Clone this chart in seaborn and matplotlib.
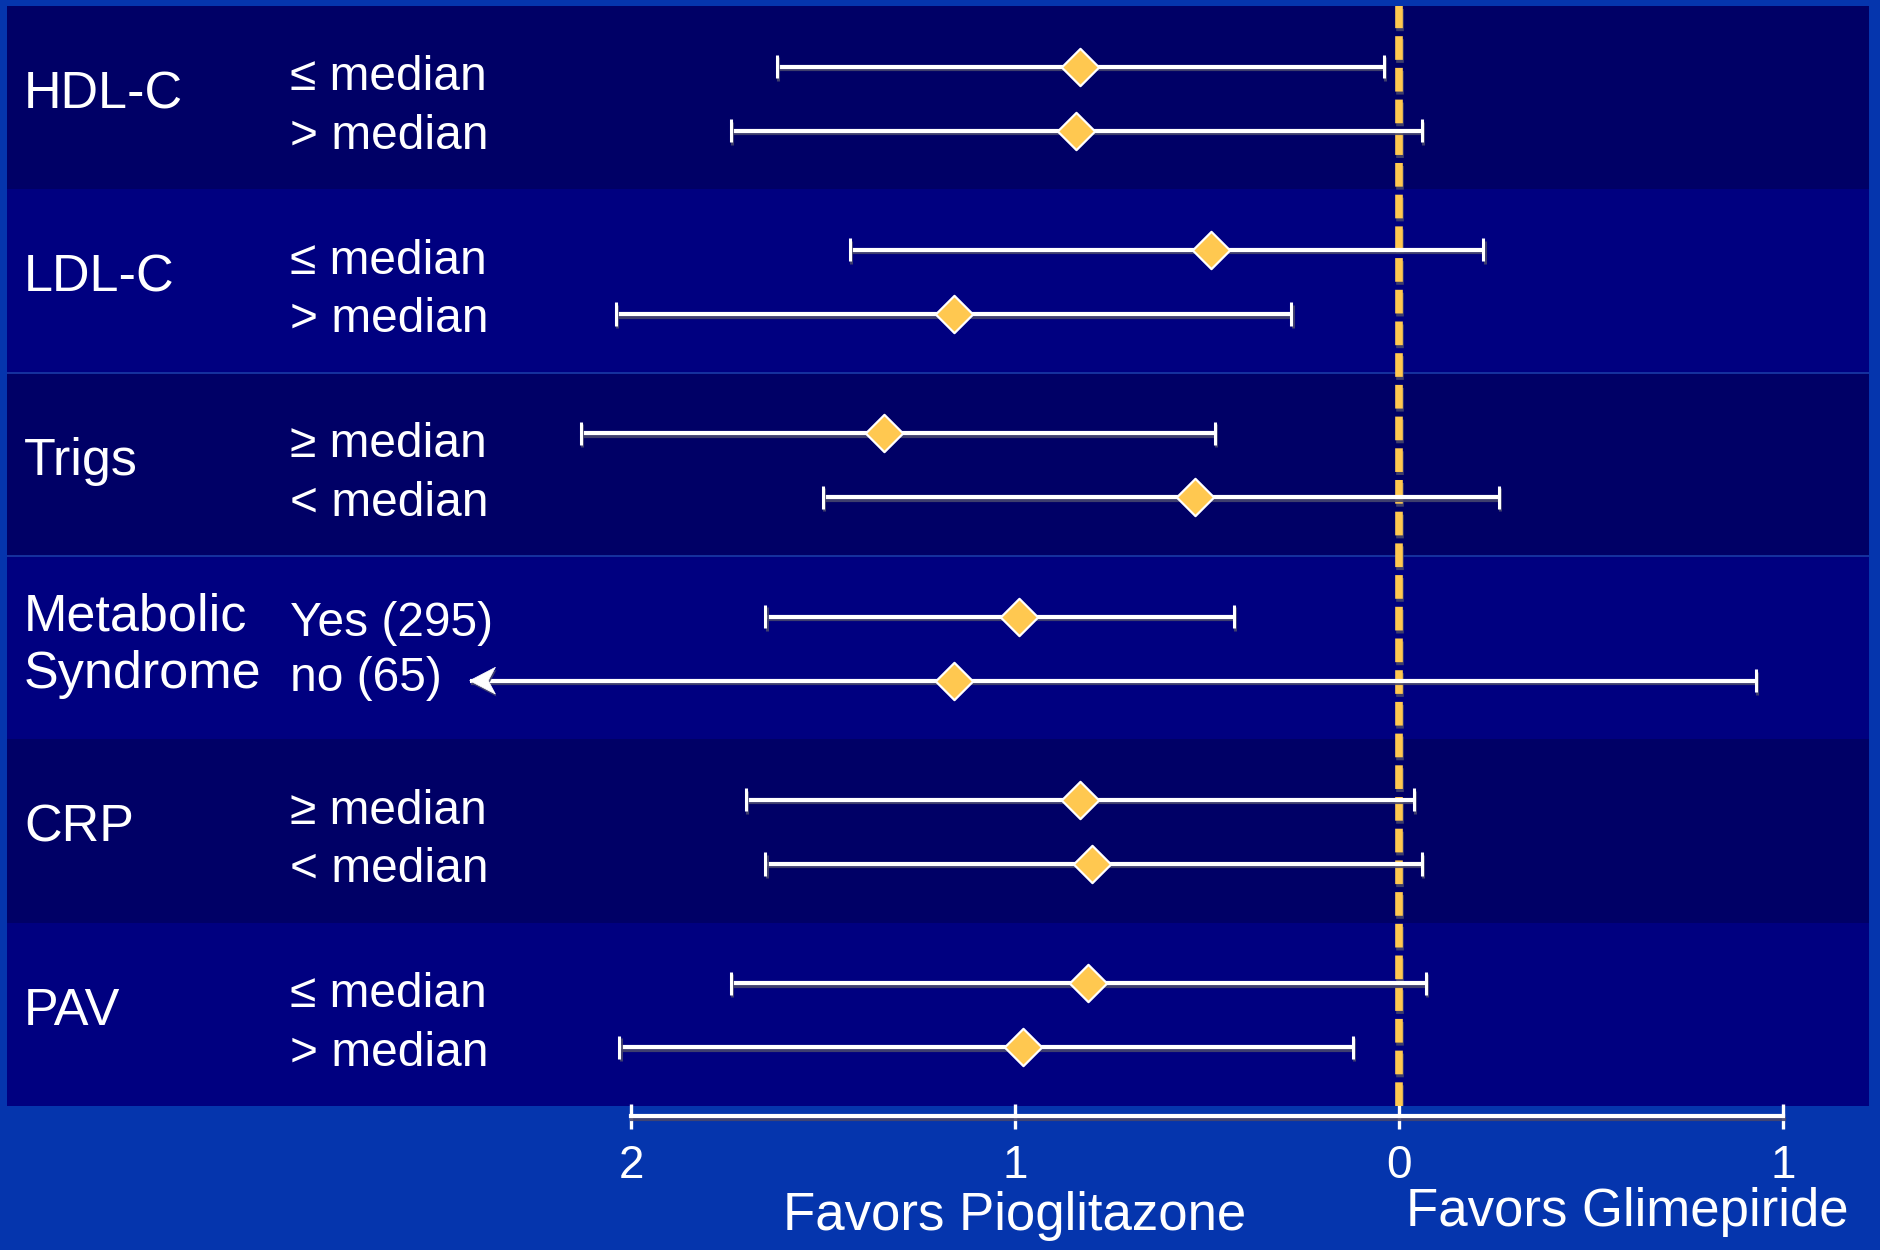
import matplotlib
matplotlib.use("Agg")
import matplotlib.pyplot as plt
import matplotlib.patheffects as pe
from matplotlib.path import Path
import pandas as pd
import seaborn as sns

# ---- data -------------------------------------------------------------
groups = ["HDL-C", "LDL-C", "Trigs", "Metabolic\nSyndrome", "CRP", "PAV"]
subgroups = ["≤ median", "> median", "≤ median", "> median", "≥ median", "< median",
             "Yes (295)", "no (65)", "≥ median", "< median", "≤ median", "> median"]
estimate = [-0.83, -0.84, -0.49, -1.16, -1.34, -0.53, -0.99, -1.16, -0.83, -0.80, -0.81, -0.98]
lower = [-1.62, -1.74, -1.43, -2.04, -2.13, -1.50, -1.65, -2.42, -1.70, -1.65, -1.74, -2.03]
upper = [-0.04, 0.06, 0.22, -0.28, -0.48, 0.26, -0.43, 0.93, 0.04, 0.06, 0.07, -0.12]
open_lower = [False, False, False, False, False, False, False, True, False, False, False, False]
tick_values = [-2, -1, 0, 1]
tick_labels = ["2", "1", "0", "1"]
favors_left = "Favors Pioglitazone"
favors_right = "Favors Glimepiride"

# ---- style ------------------------------------------------------------
OUTER = "#0535AD"
DARK_BAND = "#000066"
LIGHT_BAND = "#000080"
GOLD = "#FFC850"
WHITE = "#FFFFFF"

sns.set_style("dark")
plt.rcParams["font.family"] = ["Liberation Sans", "DejaVu Sans"]

W, H = 1881, 1250
fig = plt.figure(figsize=(W / 100, H / 100), dpi=100, facecolor=OUTER)
ax = fig.add_axes([7 / W, 144 / H, 1862 / W, 1100 / H])
ax.set_facecolor(DARK_BAND)

shadow = [pe.SimpleLineShadow(offset=(0.8, -1.8), shadow_color="#46466e", alpha=0.9),
          pe.Normal()]

# notched arrow head with its tip at the marker origin, pointing left
arrow_head = Path([(0, 0), (1.0, 0.52), (0.72, 0), (1.0, -0.52), (0, 0)],
                  [Path.MOVETO, Path.LINETO, Path.LINETO, Path.LINETO, Path.CLOSEPOLY])

# row positions: two rows per group band
n_bands = len(groups)
ypos = [i // 2 + (0.33 if i % 2 == 0 else 0.68) for i in range(len(subgroups))]
df = pd.DataFrame({"sub": subgroups, "est": estimate, "lo": lower, "hi": upper,
                   "open": open_lower, "y": ypos})

# alternating background bands
for b in range(n_bands):
    ax.axhspan(b, b + 1, color=DARK_BAND if b % 2 == 0 else LIGHT_BAND, lw=0, zorder=0)
for b in (2, 3):
    ax.axhline(b, color="#1a3aa6", lw=1.2, zorder=0.5)

# reference line at zero
ax.axvline(0, color=GOLD, lw=5.5, dashes=(3.1, 1.05), zorder=2, path_effects=shadow)

# confidence intervals
closed = df[~df["open"]]
eb = ax.errorbar(closed["est"], closed["y"],
                 xerr=[closed["est"] - closed["lo"], closed["hi"] - closed["est"]],
                 fmt="none", ecolor=WHITE, elinewidth=3, capsize=8.3, capthick=2.2, zorder=3)
for art in list(eb.lines[1]) + list(eb.lines[2]):
    art.set_path_effects(shadow)

opened = df[df["open"]]
eb2 = ax.errorbar(opened["est"], opened["y"],
                  xerr=[opened["est"] - opened["lo"], opened["hi"] - opened["est"]],
                  fmt="none", ecolor=WHITE, elinewidth=3, capsize=0, zorder=3)
for art in list(eb2.lines[2]):
    art.set_path_effects(shadow)
ax.plot(opened["hi"], opened["y"], ls="none", marker="|", ms=16.5, mew=2.2,
        color=WHITE, zorder=3, path_effects=shadow)
ax.plot(opened["lo"], opened["y"], ls="none", marker=arrow_head, ms=37,
        color=WHITE, mec=WHITE, mew=0.5, zorder=3,
        path_effects=[pe.SimplePatchShadow(offset=(0.8, -1.8), shadow_rgbFace="#46466e",
                                           alpha=0.9), pe.Normal()])

# point estimates
sns.scatterplot(data=df, x="est", y="y", marker="D", s=19 ** 2, color=GOLD,
                edgecolor=WHITE, linewidth=1.6, zorder=5, legend=False, ax=ax)

ax.set_xlim(-3.625, 1.224)
ax.set_ylim(n_bands, 0)

# group and subgroup labels
x_group, x_sub = -3.581, -2.888
for g, name in enumerate(groups):
    lines = name.split("\n")
    if len(lines) == 1:
        ax.text(x_group, g + 0.56, name, color=WHITE, fontsize=37.5,
                ha="left", va="baseline")
        sub_base = (0.46, 0.78)
    else:
        for line, off in zip(lines, (0.405, 0.72)):
            ax.text(x_group, g + off, line, color=WHITE, fontsize=37.5,
                    ha="left", va="baseline")
        sub_base = (0.435, 0.735)
    for k in range(2):
        ax.text(x_sub, g + sub_base[k], subgroups[2 * g + k], color=WHITE,
                fontsize=34.5, ha="left", va="baseline")

# x axis
for side in ("top", "left", "right"):
    ax.spines[side].set_visible(False)
sp = ax.spines["bottom"]
sp.set_position(("outward", 7.2))
sp.set_bounds(-2, 1)
sp.set_color(WHITE)
sp.set_linewidth(3)
sp.set_path_effects(shadow)
ax.set_xticks(tick_values, tick_labels)
ax.set_yticks([])
ax.tick_params(axis="x", bottom=True, direction="inout", length=18, width=2.4,
               color=WHITE, labelcolor=WHITE, labelsize=33, pad=11)
ax.set_xlabel("")
ax.set_ylabel("")
ax.grid(False)

ax.text(-1.0, 6.676, favors_left, color=WHITE, fontsize=38, ha="center",
        va="baseline", clip_on=False)
ax.text(0.594, 6.655, favors_right, color=WHITE, fontsize=38, ha="center",
        va="baseline", clip_on=False)

fig.savefig("out.png", dpi=100, facecolor=OUTER)
